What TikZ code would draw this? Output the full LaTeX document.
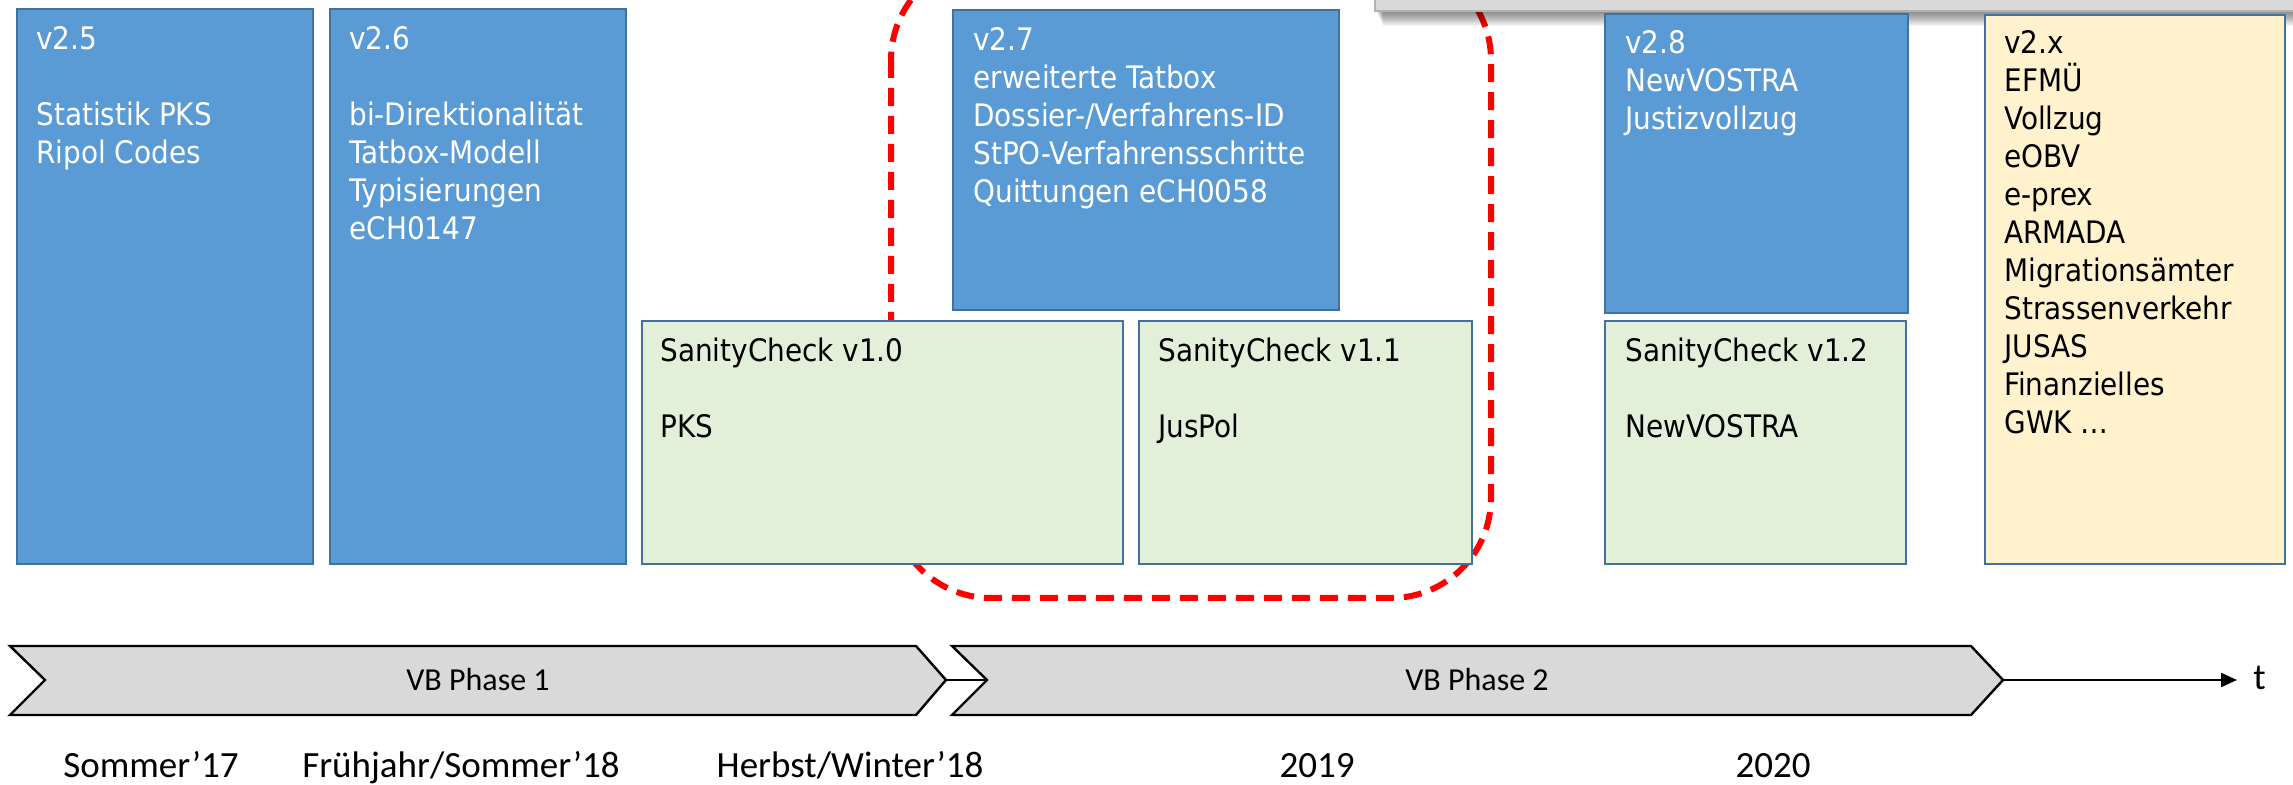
\documentclass[tikz,border=0pt]{standalone}
\usepackage{fontspec}
\setmainfont{Carlito}
\newfontfamily\boxfont{DejaVu Sans Condensed}
\usetikzlibrary{arrows.meta}
\definecolor{relblue}{HTML}{5B9BD5}
\definecolor{reledge}{HTML}{41719C}
\definecolor{chkgreen}{HTML}{E2F0D9}
\definecolor{nextyellow}{HTML}{FFF2CC}
\definecolor{phasegray}{HTML}{D9D9D9}
\begin{document}
\begin{tikzpicture}[x=0.5pt,y=-0.5pt]
      \tikzstyle{release}=[draw=reledge,line width=1.2pt,fill=relblue,
                           anchor=north west,inner sep=0pt]
      \tikzstyle{check}=[release,fill=chkgreen]
      \tikzstyle{later}=[release,fill=nextyellow]
      \tikzstyle{boxtext}=[anchor=north west,inner sep=0pt,align=left,
                           font=\boxfont\fontsize{15.5}{19}\selectfont]
      \tikzstyle{phase}=[draw=black,line width=1.2pt,fill=phasegray]
      \tikzstyle{phasetext}=[font=\fontsize{16}{19}\selectfont]
      \tikzstyle{date}=[anchor=base,font=\fontsize{18.5}{22}\selectfont]

      \useasboundingbox (0,0) rectangle (2293,785);
      \clip (0,0) rectangle (2293,785);

      % red frame round v2.7 and the SanityChecks
      \draw[red,line width=3pt,dash pattern=on 9pt off 5pt,
            rounded corners=50pt] (891,-40) rectangle (1491,598);

      % grey bar at the top, with its shadow
      \foreach \s in {1,...,14}
        \fill[black,opacity=0.04] (1376+\s/2,-60) rectangle (2300,12+\s);
      \node[draw=gray!60,line width=1pt,fill=phasegray,anchor=south west,
            minimum width=470pt,minimum height=40pt] (bar) at (1374,12) {};

      % releases
      \node[release,minimum width=148pt,minimum height=277.5pt] (v25) at (16,8) {};
      \node[boxtext,text=white] (v25txt) at (36,26)
        {v2.5\\[19pt]Statistik PKS\\Ripol Codes};
      \node[release,minimum width=148pt,minimum height=277.5pt] (v26) at (329,8) {};
      \node[boxtext,text=white] (v26txt) at (349,26)
        {v2.6\\[19pt]bi-Direktionalität\\Tatbox-Modell\\Typisierungen\\eCH0147};
      \node[release,minimum width=193pt,minimum height=150pt] (v27) at (952,9) {};
      \node[boxtext,text=white] (v27txt) at (973,27)
        {v2.7\\erweiterte Tatbox\\Dossier-/Verfahrens-ID\\StPO-Verfahrensschritte\\Quittungen eCH0058};
      \node[release,minimum width=151.5pt,minimum height=149.5pt] (v28) at (1604,13) {};
      \node[boxtext,text=white] (v28txt) at (1625,30)
        {v2.8\\NewVOSTRA\\Justizvollzug};
      \node[later,minimum width=150pt,minimum height=274.5pt] (v2x) at (1984,14) {};
      \node[boxtext] (v2xtxt) at (2004,30)
        {v2.x\\EFMÜ\\Vollzug\\eOBV\\e-prex\\ARMADA\\Migrationsämter\\Strassenverkehr\\JUSAS\\Finanzielles\\GWK …};

      % sanity checks
      \node[check,minimum width=240.5pt,minimum height=121.5pt] (sc10) at (641,320) {};
      \node[boxtext] (sc10txt) at (660,338) {SanityCheck v1.0\\[19pt]PKS};
      \node[check,minimum width=166.5pt,minimum height=121.5pt] (sc11) at (1138,320) {};
      \node[boxtext] (sc11txt) at (1158,338) {SanityCheck v1.1\\[19pt]JusPol};
      \node[check,minimum width=150.5pt,minimum height=121.5pt] (sc12) at (1604,320) {};
      \node[boxtext] (sc12txt) at (1625,338) {SanityCheck v1.2\\[19pt]NewVOSTRA};

      % phases
      \draw[phase] (10,646) -- (916,646) -- (946,680) -- (916,715)
        -- (10,715) -- (45,680) -- cycle;
      \coordinate (p1tip) at (946,680);
      \node[phasetext] (p1) at (478,680) {VB Phase 1};
      \draw[phase] (952,646) -- (1971,646) -- (2003,680) -- (1971,715)
        -- (952,715) -- (987,680) -- cycle;
      \coordinate (p2notch) at (987,680);
      \coordinate (p2tip) at (2003,680);
      \node[phasetext] (p2) at (1477,680) {VB Phase 2};

      \node[anchor=base west,inner xsep=0pt,font=\fontsize{18.5}{22}\selectfont]
        (tlabel) at (2253,690) {t};
      \draw[line width=1pt] (p1tip) -- (p2notch);
      \draw[line width=1pt,-{Triangle[length=8pt,width=7pt]},shorten >=8pt]
        (p2tip) -- (p2tip -| tlabel.west);

      % dates
      \node[date] (d1) at (151,777) {Sommer’17};
      \node[date] (d2) at (461,777) {Frühjahr/Sommer’18};
      \node[date] (d3) at (850,777) {Herbst/Winter’18};
      \node[date] (d4) at (1317,777) {2019};
      \node[date] (d5) at (1773,777) {2020};
\end{tikzpicture}
\end{document}
